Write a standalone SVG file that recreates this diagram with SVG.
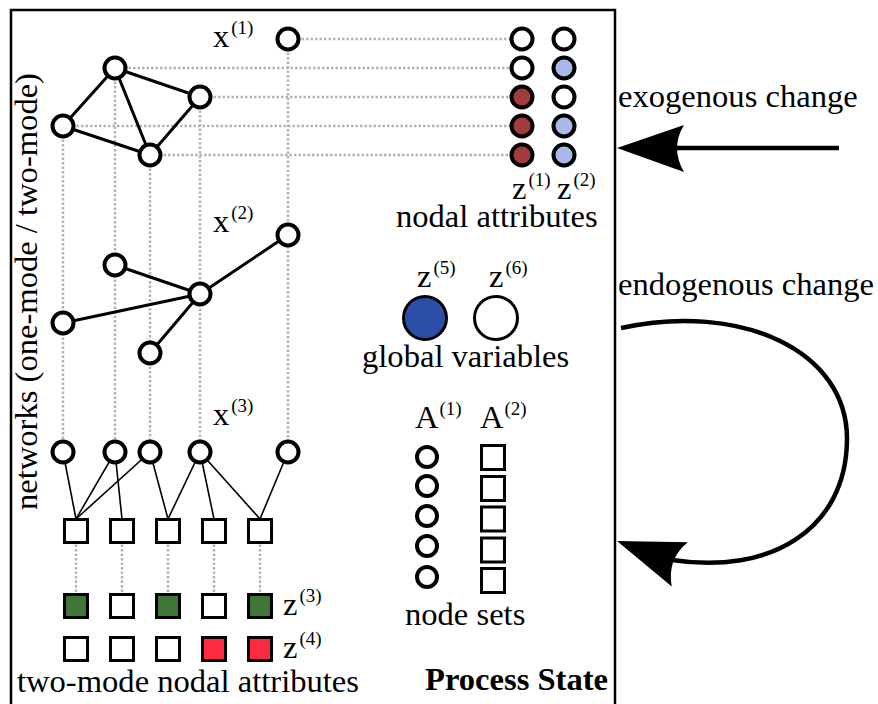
<svg xmlns="http://www.w3.org/2000/svg" width="878" height="704" viewBox="0 0 878 704">
<defs>
<style>
text{font-family:"Liberation Serif","Times New Roman",serif;font-size:32.6px;fill:#000}
.sup{font-size:19px}
.bold{font-weight:bold}
.dot{stroke:#b4b4b4;stroke-width:2.5;stroke-dasharray:2.5 2;fill:none}
.edge{stroke:#000;stroke-width:3;fill:none}
.bip{stroke:#000;stroke-width:1.6;fill:none}
.nd{stroke:#000;stroke-width:4;fill:#fff}
.sq{stroke:#000;stroke-width:3;fill:#fff}
.red{fill:#a23c3c}
.lb{fill:#a8b8e8}
.grn{fill:#3f7537}
.pk{fill:#fe2a42}
.arrow{stroke:#000;stroke-width:4.5;fill:none}
</style>
<path id="head" d="M0,0 L67,-23 Q53,0 67,24 Z" fill="#000"/>
</defs>
<rect id="frame" x="11" y="10" width="604" height="720" fill="#fff" stroke="#000" stroke-width="2.5"/>

<g id="connectors">
  <line class="dot" x1="288" y1="39" x2="522" y2="39"/>
  <line class="dot" x1="115" y1="68" x2="522" y2="68"/>
  <line class="dot" x1="200" y1="97" x2="522" y2="97"/>
  <line class="dot" x1="63" y1="126" x2="522" y2="126"/>
  <line class="dot" x1="150" y1="155" x2="522" y2="155"/>
  <line class="dot" x1="63" y1="126" x2="63" y2="452"/>
  <line class="dot" x1="115" y1="68" x2="115" y2="452"/>
  <line class="dot" x1="150" y1="155" x2="150" y2="452"/>
  <line class="dot" x1="200" y1="97" x2="200" y2="452"/>
  <line class="dot" x1="288" y1="39" x2="288" y2="452"/>
  <line class="dot" x1="76" y1="531" x2="76" y2="606"/>
  <line class="dot" x1="122" y1="531" x2="122" y2="606"/>
  <line class="dot" x1="168" y1="531" x2="168" y2="606"/>
  <line class="dot" x1="214" y1="531" x2="214" y2="606"/>
  <line class="dot" x1="260" y1="531" x2="260" y2="606"/>
  <line class="edge" x1="115" y1="68" x2="200" y2="97"/>
  <line class="edge" x1="115" y1="68" x2="63" y2="126"/>
  <line class="edge" x1="115" y1="68" x2="150" y2="155"/>
  <line class="edge" x1="63" y1="126" x2="150" y2="155"/>
  <line class="edge" x1="200" y1="97" x2="150" y2="155"/>
  <line class="edge" x1="200" y1="294" x2="288" y2="235"/>
  <line class="edge" x1="200" y1="294" x2="115" y2="265"/>
  <line class="edge" x1="200" y1="294" x2="63" y2="323"/>
  <line class="edge" x1="200" y1="294" x2="150" y2="353"/>
  <line class="bip" x1="63" y1="452" x2="76" y2="519"/>
  <line class="bip" x1="115" y1="452" x2="76" y2="519"/>
  <line class="bip" x1="115" y1="452" x2="122" y2="519"/>
  <line class="bip" x1="150" y1="452" x2="76" y2="519"/>
  <line class="bip" x1="150" y1="452" x2="168" y2="519"/>
  <line class="bip" x1="200" y1="452" x2="168" y2="519"/>
  <line class="bip" x1="200" y1="452" x2="214" y2="519"/>
  <line class="bip" x1="200" y1="452" x2="260" y2="519"/>
  <line class="bip" x1="288" y1="452" x2="260" y2="519"/>
  <line class="arrow" x1="839" y1="148" x2="672" y2="148"/>
  <use href="#head" transform="translate(617,148)"/>
  <path class="arrow" d="M621,328 C740,302 848,350 847,440 C846,530 770,575 672,560"/>
  <use href="#head" transform="translate(617,541) rotate(20)"/>
</g>

<g id="network1">
  <text x="213" y="47">x<tspan class="sup" dx="2" dy="-13">(1)</tspan></text>
  <circle class="nd" cx="288" cy="39" r="10.5"/>
  <circle class="nd" cx="115" cy="68" r="10.5"/>
  <circle class="nd" cx="200" cy="97" r="10.5"/>
  <circle class="nd" cx="63" cy="126" r="10.5"/>
  <circle class="nd" cx="150" cy="155" r="10.5"/>
</g>
<g id="network2">
  <text x="213" y="232">x<tspan class="sup" dx="2" dy="-13">(2)</tspan></text>
  <circle class="nd" cx="288" cy="235" r="10.5"/>
  <circle class="nd" cx="115" cy="265" r="10.5"/>
  <circle class="nd" cx="200" cy="294" r="10.5"/>
  <circle class="nd" cx="63" cy="323" r="10.5"/>
  <circle class="nd" cx="150" cy="353" r="10.5"/>
</g>
<g id="network3">
  <text x="213" y="425">x<tspan class="sup" dx="2" dy="-13">(3)</tspan></text>
  <circle class="nd" cx="63" cy="452" r="10.5"/>
  <circle class="nd" cx="115" cy="452" r="10.5"/>
  <circle class="nd" cx="150" cy="452" r="10.5"/>
  <circle class="nd" cx="200" cy="452" r="10.5"/>
  <circle class="nd" cx="288" cy="452" r="10.5"/>
  <rect class="sq" x="64.5" y="519.5" width="23" height="23"/>
  <rect class="sq" x="110.5" y="519.5" width="23" height="23"/>
  <rect class="sq" x="156.5" y="519.5" width="23" height="23"/>
  <rect class="sq" x="202.5" y="519.5" width="23" height="23"/>
  <rect class="sq" x="248.5" y="519.5" width="23" height="23"/>
</g>
<g id="networks-label">
  <text transform="translate(37,510) rotate(-90)">networks (one-mode / two-mode)</text>
</g>

<g id="nodal-attributes">
  <circle class="nd" cx="522" cy="39" r="10.5"/>
  <circle class="nd" cx="522" cy="68" r="10.5"/>
  <circle class="nd red" cx="522" cy="97" r="10.5"/>
  <circle class="nd red" cx="522" cy="126" r="10.5"/>
  <circle class="nd red" cx="522" cy="155" r="10.5"/>
  <circle class="nd" cx="564" cy="39" r="10.5"/>
  <circle class="nd lb" cx="564" cy="68" r="10.5"/>
  <circle class="nd" cx="564" cy="97" r="10.5"/>
  <circle class="nd lb" cx="564" cy="126" r="10.5"/>
  <circle class="nd lb" cx="564" cy="155" r="10.5"/>
  <text x="512" y="199">z<tspan class="sup" dx="2" dy="-13">(1)</tspan></text>
  <text x="557" y="199">z<tspan class="sup" dx="2" dy="-13">(2)</tspan></text>
  <text x="396" y="227">nodal attributes</text>
</g>

<g id="global-variables">
  <text x="417" y="287">z<tspan class="sup" dx="2" dy="-13">(5)</tspan></text>
  <text x="489" y="287">z<tspan class="sup" dx="2" dy="-13">(6)</tspan></text>
  <circle cx="425" cy="318" r="21.5" fill="#2b4ea7" stroke="#000" stroke-width="3"/>
  <circle cx="496" cy="318" r="21.5" fill="#fff" stroke="#000" stroke-width="3"/>
  <text x="362" y="367">global variables</text>
</g>

<g id="node-sets">
  <text x="415" y="428">A<tspan class="sup" dx="1" dy="-13">(1)</tspan></text>
  <text x="480" y="428">A<tspan class="sup" dx="1" dy="-13">(2)</tspan></text>
  <circle class="nd" cx="427" cy="457" r="10"/>
  <circle class="nd" cx="427" cy="486" r="10"/>
  <circle class="nd" cx="427" cy="516" r="10"/>
  <circle class="nd" cx="427" cy="546" r="10"/>
  <circle class="nd" cx="427" cy="577" r="10"/>
  <rect class="sq" x="481.5" y="445.5" width="23" height="24"/>
  <rect class="sq" x="481.5" y="476.5" width="23" height="24"/>
  <rect class="sq" x="481.5" y="507" width="23" height="24"/>
  <rect class="sq" x="481.5" y="538" width="23" height="24"/>
  <rect class="sq" x="481.5" y="568.5" width="23" height="24"/>
  <text x="405" y="625">node sets</text>
</g>

<g id="two-mode-attributes">
  <rect class="sq grn" x="64.5" y="594.5" width="23" height="23"/>
  <rect class="sq" x="110.5" y="594.5" width="23" height="23"/>
  <rect class="sq grn" x="156.5" y="594.5" width="23" height="23"/>
  <rect class="sq" x="202.5" y="594.5" width="23" height="23"/>
  <rect class="sq grn" x="248.5" y="594.5" width="23" height="23"/>
  <rect class="sq" x="64.5" y="637.5" width="23" height="23"/>
  <rect class="sq" x="110.5" y="637.5" width="23" height="23"/>
  <rect class="sq" x="156.5" y="637.5" width="23" height="23"/>
  <rect class="sq pk" x="202.5" y="637.5" width="23" height="23"/>
  <rect class="sq pk" x="248.5" y="637.5" width="23" height="23"/>
  <text x="283" y="615">z<tspan class="sup" dx="2" dy="-13">(3)</tspan></text>
  <text x="283" y="658">z<tspan class="sup" dx="2" dy="-13">(4)</tspan></text>
  <text x="17" y="692">two-mode nodal attributes</text>
</g>

<g id="process-state">
  <text class="bold" x="425" y="690">Process State</text>
</g>
<g id="exogenous">
  <text x="618" y="107">exogenous change</text>
</g>
<g id="endogenous">
  <text x="618" y="295">endogenous change</text>
</g>
</svg>
